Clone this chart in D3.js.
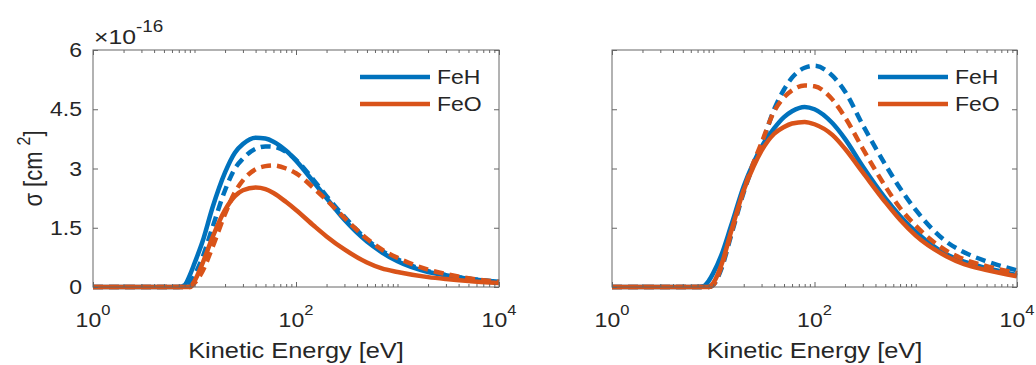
<!DOCTYPE html>
<html>
<head>
<meta charset="utf-8">
<script src="https://cdn.jsdelivr.net/npm/d3@7"></script>
<style>
  body { margin: 0; background: #fff; }
  text { font-family: "Liberation Sans", Arial, sans-serif; fill: #262626; }
</style>
</head>
<body>
<div id="chart"></div>
<script>
    // Energy grid (eV) shared by all curves
    const energy = [1, 7, 8, 9, 10, 12, 15, 20, 25, 30, 40, 50, 60, 80, 100, 150, 200, 300, 500, 700, 1000, 2000, 3000, 5000, 10000];

    // Left panel (units of 1e-16 cm^2)
    const feHSolidL = [0, 0, 0.05, 0.3, 0.6, 1.15, 2.0, 2.9, 3.4, 3.62, 3.78, 3.76, 3.68, 3.45, 3.2, 2.65, 2.25, 1.7, 1.15, 0.88, 0.65, 0.38, 0.3, 0.21, 0.13];
    const feHDashL  = [0, 0, 0, 0.1, 0.3, 0.75, 1.5, 2.45, 3.0, 3.25, 3.5, 3.56, 3.55, 3.42, 3.22, 2.7, 2.3, 1.78, 1.2, 0.92, 0.7, 0.4, 0.3, 0.21, 0.13];
    const feOSolidL = [0, 0, 0, 0, 0.15, 0.6, 1.25, 1.95, 2.3, 2.45, 2.52, 2.48, 2.38, 2.15, 1.95, 1.55, 1.28, 0.95, 0.62, 0.47, 0.38, 0.25, 0.2, 0.15, 0.1];
    const feODashL  = [0, 0, 0, 0, 0.1, 0.4, 1.0, 1.85, 2.4, 2.7, 2.98, 3.06, 3.08, 3.0, 2.88, 2.5, 2.2, 1.75, 1.22, 0.95, 0.74, 0.44, 0.33, 0.22, 0.13];

    // Right panel
    const feHSolidR = [0, 0, 0.02, 0.15, 0.35, 0.8, 1.55, 2.55, 3.15, 3.55, 4.02, 4.3, 4.45, 4.56, 4.5, 4.15, 3.75, 3.05, 2.25, 1.8, 1.4, 0.83, 0.64, 0.48, 0.3];
    const feHDashR  = [0, 0, 0, 0, 0.05, 0.45, 1.3, 2.4, 3.1, 3.6, 4.5, 5.0, 5.3, 5.55, 5.6, 5.35, 4.95, 4.1, 3.1, 2.5, 1.95, 1.15, 0.88, 0.65, 0.42];
    const feOSolidR = [0, 0, 0, 0, 0.1, 0.55, 1.4, 2.45, 3.05, 3.45, 3.88, 4.05, 4.14, 4.18, 4.12, 3.85, 3.5, 2.9, 2.15, 1.7, 1.3, 0.78, 0.58, 0.43, 0.27];
    const feODashR  = [0, 0, 0, 0, 0.05, 0.5, 1.35, 2.45, 3.15, 3.65, 4.45, 4.8, 4.98, 5.1, 5.08, 4.75, 4.3, 3.5, 2.55, 2.0, 1.55, 0.92, 0.7, 0.53, 0.35];

    const yTicks = [0, 1.5, 3, 4.5, 6];
    const xMajor = [1, 100, 10000];
    const xLabels = ["0", "2", "4"];
    const legendNames = ["FeH", "FeO"];

    const blue = "#0072BD", orange = "#D95319";
    const axisCol = "#666";
    const SX = 1.18; // the figure is stretched horizontally

    const width = 1036, height = 365;
    const plotTop = 50, plotBottom = 287;

    const svg = d3.select("#chart").append("svg")
        .attr("width", width).attr("height", height);

    // stretched text helper
    function stext(parent, x, y, size, anchor) {
        return parent.append("g")
            .attr("transform", `translate(${x},${y}) scale(${SX},1)`)
            .append("text")
            .attr("font-size", size)
            .attr("text-anchor", anchor);
    }

    const y = d3.scaleLinear().domain([0, 6]).range([plotBottom, plotTop]);

    const minor = [];
    for (let k = 0; k < 4; k++) {
        for (let m = 1; m <= 9; m++) {
            const v = m * Math.pow(10, k);
            if (!xMajor.includes(v)) minor.push(v);
        }
    }

    const panels = [
        { x0: 93, x1: 499, showY: true,
          series: [[feHSolidL, blue, false], [feHDashL, blue, true], [feOSolidL, orange, false], [feODashL, orange, true]] },
        { x0: 612, x1: 1017, showY: false,
          series: [[feHSolidR, blue, false], [feHDashR, blue, true], [feOSolidR, orange, false], [feODashR, orange, true]] }
    ];

    panels.forEach(p => {
        const x = d3.scaleLog().domain([1, 10000]).range([p.x0, p.x1]);
        const g = svg.append("g");

        // curves
        const line = d3.line()
            .x((d, i) => x(energy[i]))
            .y(d => y(d))
            .curve(d3.curveMonotoneX);
        p.series.forEach(([vals, col, dashed]) => {
            g.append("path")
                .attr("d", line(vals))
                .attr("fill", "none")
                .attr("stroke", col)
                .attr("stroke-width", 4.5)
                .attr("stroke-dasharray", dashed ? "10,6" : null);
        });

        // ticks (inward, all four sides)
        const axes = [
            [d3.axisBottom(x), `translate(0,${plotBottom})`, minor, 3],
            [d3.axisBottom(x), `translate(0,${plotBottom})`, xMajor, 5],
            [d3.axisTop(x), `translate(0,${plotTop})`, minor, 3],
            [d3.axisTop(x), `translate(0,${plotTop})`, xMajor, 5],
            [d3.axisLeft(y), `translate(${p.x0},0)`, yTicks, 5],
            [d3.axisRight(y), `translate(${p.x1},0)`, yTicks, 5]
        ];
        axes.forEach(([ax, tr, vals, len]) => {
            const a = g.append("g").attr("transform", tr)
                .call(ax.tickValues(vals).tickSize(-len).tickFormat(""));
            a.select(".domain").remove();
            a.selectAll("line").attr("stroke", axisCol);
        });

        g.append("rect")
            .attr("x", p.x0).attr("y", plotTop)
            .attr("width", p.x1 - p.x0).attr("height", plotBottom - plotTop)
            .attr("fill", "none").attr("stroke", axisCol).attr("stroke-width", 1);

        // x tick labels 10^k
        xMajor.forEach((v, i) => {
            const t = stext(g, x(v), 327, 19.5, "middle");
            t.append("tspan").text("10");
            t.append("tspan").attr("font-size", 14).attr("dy", -12).text(xLabels[i]);
        });

        // x label
        stext(g, (p.x0 + p.x1) / 2, 358, 21.5, "middle").text("Kinetic Energy [eV]");

        // y tick labels and exponent
        if (p.showY) {
            yTicks.forEach(v => {
                stext(g, 82, y(v), 19.5, "end").attr("dy", "0.36em").text(v);
            });
            const e = stext(g, p.x0 + 1, 44, 21, "start");
            e.append("tspan").text("\u00d710");
            e.append("tspan").attr("font-size", 16).attr("dy", -12).text("-16");

            const yl = g.append("g")
                .attr("transform", `translate(42,${(plotTop + plotBottom) / 2}) scale(${SX},1) rotate(-90)`)
                .append("text").attr("font-size", 22).attr("text-anchor", "middle");
            yl.append("tspan").text("\u03c3 [cm ");
            yl.append("tspan").attr("font-size", 16).attr("dy", -10).text("2");
            yl.append("tspan").attr("dy", 10).text("]");
        }

        // legend
        const lx = p.x1 - 139;
        legendNames.forEach((name, i) => {
            const ly = 77 + i * 27;
            g.append("line")
                .attr("x1", lx).attr("x2", lx + 70)
                .attr("y1", ly).attr("y2", ly)
                .attr("stroke", i === 0 ? blue : orange)
                .attr("stroke-width", 4.5);
            stext(g, lx + 77, ly, 19.5, "start").attr("dy", "0.36em").text(name);
        });
    });
</script>
</body>
</html>
